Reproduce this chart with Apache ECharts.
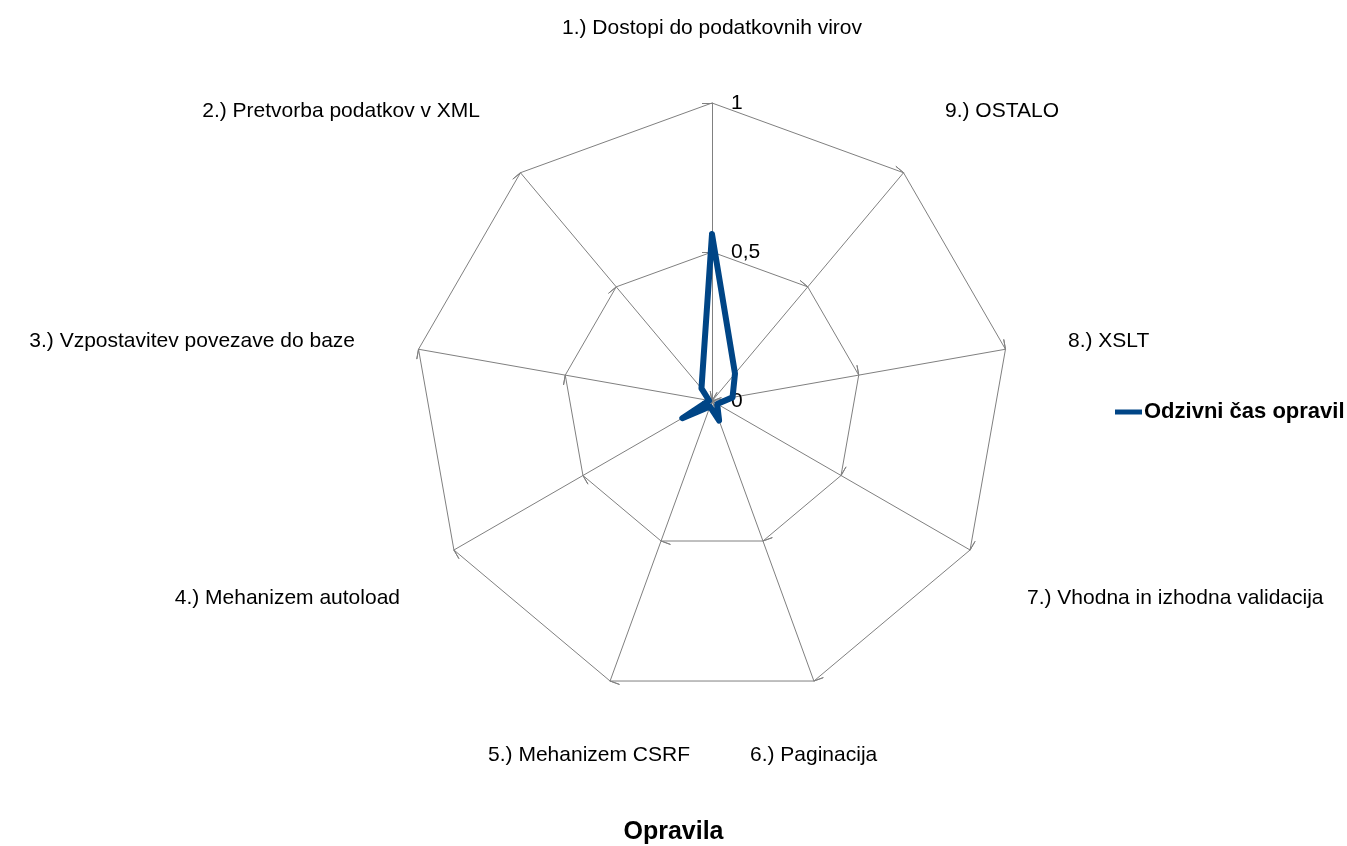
<!DOCTYPE html>
<html>
<head>
<meta charset="utf-8">
<title>Odzivni čas opravil</title>
<script src="https://cdn.jsdelivr.net/npm/echarts@6/dist/echarts.min.js"></script>
<style>
  html, body { margin: 0; padding: 0; background: #fff; }
  #chart { width: 1347px; height: 846px; }
</style>
</head>
<body>
<div id="chart"></div>
<script>
// Tasks (radar axes), in drawing order: top first, then counter-clockwise
const categories = [
  '1.) Dostopi do podatkovnih virov',
  '2.) Pretvorba podatkov v XML',
  '3.) Vzpostavitev povezave do baze',
  '4.) Mehanizem autoload',
  '5.) Mehanizem CSRF',
  '6.) Paginacija',
  '7.) Vhodna in izhodna validacija',
  '8.) XSLT',
  '9.) OSTALO'
];
const seriesName = 'Odzivni čas opravil';
const responseTimes = [0.56, 0.055, 0.01, 0.115, 0.02, 0.07, 0.02, 0.07, 0.12];
const axisMax = 1;
const axisStep = 0.5;
const axisTitle = 'Opravila';

const FONT = '"Liberation Sans", Arial, sans-serif';
const GRID = '#808080';
const CX = 712, CY = 401, R = 298;

// Where each axis caption sits and how it is anchored
const nameLayout = [
  { x: 712,  y: 28,  align: 'center' },
  { x: 480,  y: 111, align: 'right' },
  { x: 355,  y: 341, align: 'right' },
  { x: 400,  y: 598, align: 'right' },
  { x: 690,  y: 755, align: 'right' },
  { x: 750,  y: 755, align: 'left' },
  { x: 1027, y: 598, align: 'left' },
  { x: 1068, y: 341, align: 'left' },
  { x: 945,  y: 111, align: 'left' }
];

const indicators = (withLabel) => categories.map((name, i) => {
  const ind = { name: name, min: 0, max: axisMax };
  if (withLabel && i === 0) {
    // value scale printed once, to the right of the first axis
    ind.axisLabel = {
      show: true,
      color: '#000',
      fontFamily: FONT,
      fontSize: 21,
      align: 'left',
      margin: -19,
      formatter: (v) => String(v).replace('.', ',')
    };
  }
  return ind;
});

const radarBase = {
  center: [CX, CY],
  radius: R,
  startAngle: 90,
  shape: 'polygon',
  splitNumber: axisMax / axisStep,
  axisName: { show: false },
  splitArea: { show: false }
};

const chart = echarts.init(document.getElementById('chart'), null, { renderer: 'canvas' });

chart.setOption({
  backgroundColor: '#fff',
  animation: false,
  title: {
    text: axisTitle,
    left: 'center',
    top: 815,
    textStyle: { fontFamily: FONT, fontSize: 25, fontWeight: 'bold', color: '#000' }
  },
  legend: {
    data: [seriesName],
    left: 1110,
    top: 396,
    icon: 'rect',
    itemWidth: 27,
    itemHeight: 5,
    itemGap: 4,
    textStyle: { fontFamily: FONT, fontSize: 22, fontWeight: 'bold', color: '#000', padding: [0, 0, 0, -3] }
  },
  radar: [
    Object.assign({}, radarBase, {
      indicator: indicators(true),
      axisLine: { lineStyle: { color: GRID, width: 1 } },
      splitLine: { lineStyle: { color: GRID, width: 1 } },
      axisTick: { show: true, inside: false, length: 10, lineStyle: { color: GRID, width: 1 } },
      axisLabel: { show: false }
    }),
    // second pass of the same axes, ticks on the other side so they cross the axis
    Object.assign({}, radarBase, {
      indicator: indicators(false),
      axisLine: { show: false },
      splitLine: { show: false },
      axisTick: { show: true, inside: true, length: 10, lineStyle: { color: GRID, width: 1 } },
      axisLabel: { show: false }
    })
  ],
  series: [{
    type: 'radar',
    radarIndex: 0,
    name: seriesName,
    symbol: 'none',
    lineStyle: { color: '#004586', width: 6, join: 'round', cap: 'round' },
    itemStyle: { color: '#004586' },
    data: [{ value: responseTimes, name: seriesName }]
  }],
  graphic: categories.map((name, i) => ({
    type: 'text',
    x: nameLayout[i].x,
    y: nameLayout[i].y,
    style: {
      text: name,
      fill: '#000',
      font: '21px ' + FONT,
      textAlign: nameLayout[i].align,
      textVerticalAlign: 'middle'
    }
  }))
});
</script>
</body>
</html>
